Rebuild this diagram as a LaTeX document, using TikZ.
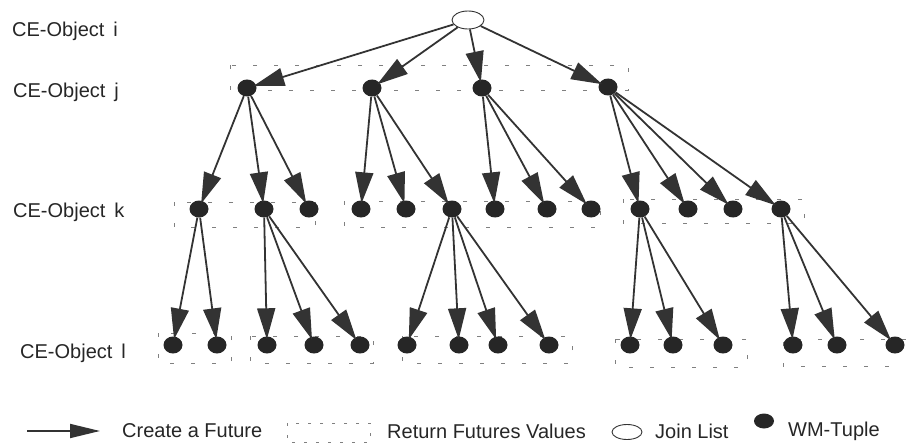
\documentclass[tikz,border=0pt]{standalone}
\usepackage{fontspec}
\setmainfont{Liberation Sans}
\usetikzlibrary{arrows.meta,shapes.geometric}
\begin{document}
\begin{tikzpicture}[x=1pt,y=-1pt,
  tuple/.style={ellipse, fill=black!85, minimum width=19pt, minimum height=17pt, inner sep=0pt},
  joinnode/.style={ellipse, draw=black!80, line width=0.9pt, fill=white, minimum width=32pt, minimum height=18pt, inner sep=0pt},
  fut/.style={draw=black!80, line width=1.8pt, shorten >=-3pt, -{Triangle[length=31pt,width=18pt]}},
  ret/.style={draw=black!50, line width=0.8pt, dash pattern=on 4pt off 17pt},
  lab/.style={anchor=west, inner sep=0pt, font=\fontsize{20}{24}\selectfont, text=black!85}]
\useasboundingbox (0,0) rectangle (906,444);

% return-values boxes
\draw[ret] (230,65) rectangle (628,90);
\draw[ret] (174,202) rectangle (315,227);
\draw[ret] (344,201) rectangle (600,227);
\draw[ret] (623,199) rectangle (804,223);
\draw[ret] (158,333) rectangle (231,363);
\draw[ret] (250,336) rectangle (373,363);
\draw[ret] (402,336) rectangle (572,363);
\draw[ret] (615,339) rectangle (747,367);
\draw[ret] (906,339) -- (783,339) -- (783,366) -- (906,366);

% labels
\node[lab] (li) at (12,31) {CE-Object\hspace{9pt}i};
\node[lab] (lj) at (13,92) {CE-Object\hspace{9pt}j};
\node[lab] (lk) at (13,212) {CE-Object\hspace{9pt}k};
\node[lab] (ll) at (20,353) {CE-Object\hspace{9pt}l};

% nodes
\node[joinnode] (r) at (468,20) {};
\foreach \n/\x/\y in {j1/247/88, j2/372/88, j3/482/88, j4/608/87}
  \node[tuple] (\n) at (\x,\y) {};
\foreach \n/\x in {k1/199, k2/264, k3/309, k4/361, k5/406, k6/452, k7/495,
                   k8/547, k9/591, k10/640, k11/688, k12/733, k13/781}
  \node[tuple] (\n) at (\x,209) {};
\foreach \n/\x in {l1/173, l2/217, l3/267, l4/314, l5/360, l6/407, l7/459, l8/498,
                   l9/549, l10/630, l11/673, l12/723, l13/793, l14/837, l15/895}
  \node[tuple] (\n) at (\x,345) {};

% futures
\foreach \a/\b in {r/j1, r/j2, r/j3, r/j4,
  j1/k1, j1/k2, j1/k3, j2/k4, j2/k5, j2/k6, j3/k7, j3/k8, j3/k9,
  j4/k10, j4/k11, j4/k12, j4/k13,
  k1/l1, k1/l2, k2/l3, k2/l4, k2/l5, k6/l6, k6/l7, k6/l8, k6/l9,
  k10/l10, k10/l11, k10/l12, k13/l13, k13/l14, k13/l15}
  \draw[fut] (\a) -- (\b);

% legend
\coordinate (la) at (27,431);
\coordinate (lb) at (100,431);
\draw[fut, shorten >=0pt, -{Triangle[length=30pt,width=14pt]}] (la) -- (lb);
\node[lab] (t1) at (122,431) {Create a Future};
\draw[ret, dash pattern=on 3pt off 9pt] (287,423) rectangle (370,442);
\node[lab] (t2) at (387,431) {Return Futures Values};
\node[joinnode, minimum width=30pt, minimum height=15pt] (lj0) at (627,432) {};
\node[lab] (t3) at (655,431) {Join List};
\node[tuple, minimum width=20pt, minimum height=15pt] (lt0) at (764,421) {};
\node[lab] (t4) at (788,431) {WM-Tuple};
\end{tikzpicture}
\end{document}
